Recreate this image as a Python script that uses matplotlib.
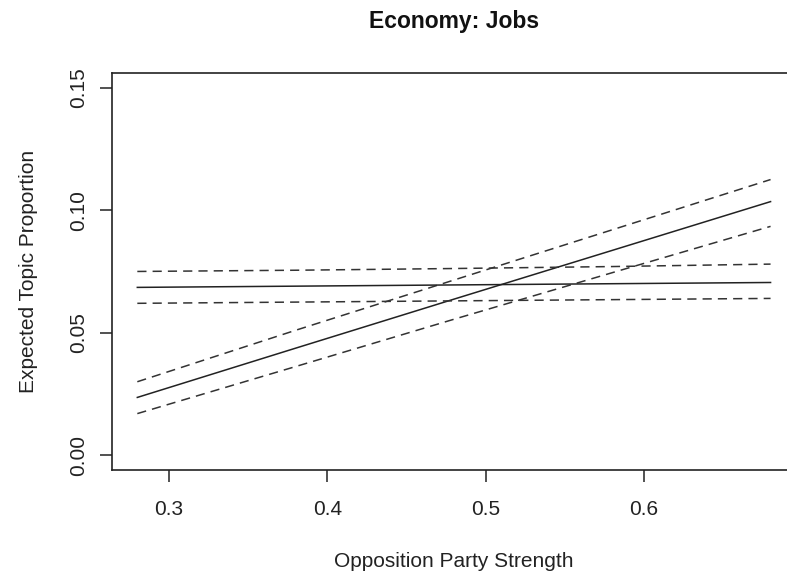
import matplotlib
matplotlib.use("Agg")
import matplotlib.pyplot as plt

plt.rcParams["font.family"] = ["Liberation Sans", "DejaVu Sans"]

# opposition party strength grid
strength = [0.28, 0.38, 0.48, 0.58, 0.68]

# topic effect rising with opposition strength
rise_mean = [0.0236, 0.0437, 0.0637, 0.0836, 0.1035]
rise_upper = [0.0300, 0.0510, 0.0715, 0.0920, 0.1125]
rise_lower = [0.0170, 0.0362, 0.0555, 0.0745, 0.0934]

# flat topic effect
flat_mean = [0.0685, 0.0690, 0.0695, 0.0700, 0.0705]
flat_upper = [0.0750, 0.0755, 0.0762, 0.0770, 0.0780]
flat_lower = [0.0620, 0.0625, 0.0630, 0.0635, 0.0640]

x_ticks = [0.3, 0.4, 0.5, 0.6]
y_ticks = [0.00, 0.05, 0.10, 0.15]

fig = plt.figure(figsize=(7.87, 5.78), dpi=100)
ax = fig.add_axes([0.1423, 0.1869, 0.869, 0.6869])

lw = 1.1
dash = (0, (6, 4))
for mean, up, lo in [(rise_mean, rise_upper, rise_lower),
                     (flat_mean, flat_upper, flat_lower)]:
    ax.plot(strength, mean, color="#222222", lw=lw)
    ax.plot(strength, up, color="#333333", lw=lw, linestyle=dash)
    ax.plot(strength, lo, color="#333333", lw=lw, linestyle=dash)

ax.set_xlim(0.264, 0.696)
ax.set_ylim(-0.006, 0.156)
ax.set_xticks(x_ticks)
ax.set_xticklabels([f"{v:.1f}" for v in x_ticks])
ax.set_yticks(y_ticks)
ax.set_yticklabels([f"{v:.2f}" for v in y_ticks], rotation=90, va="center")

ax.tick_params(direction="out", length=8.5, width=1.1, labelsize=15,
               colors="#222222")
ax.tick_params(axis="x", pad=13)
ax.tick_params(axis="y", pad=9)
for side in ["left", "bottom", "top", "right"]:
    ax.spines[side].set_linewidth(1.2)
    ax.spines[side].set_color("#222222")

ax.set_xlabel("Opposition Party Strength", fontsize=15, labelpad=24, color="#222222")
ax.set_ylabel("Expected Topic Proportion", fontsize=15, labelpad=22, color="#222222")
ax.set_title("Economy: Jobs", fontsize=16.5, fontweight="bold", pad=32, color="#111111")

fig.savefig("out.png", dpi=100)
